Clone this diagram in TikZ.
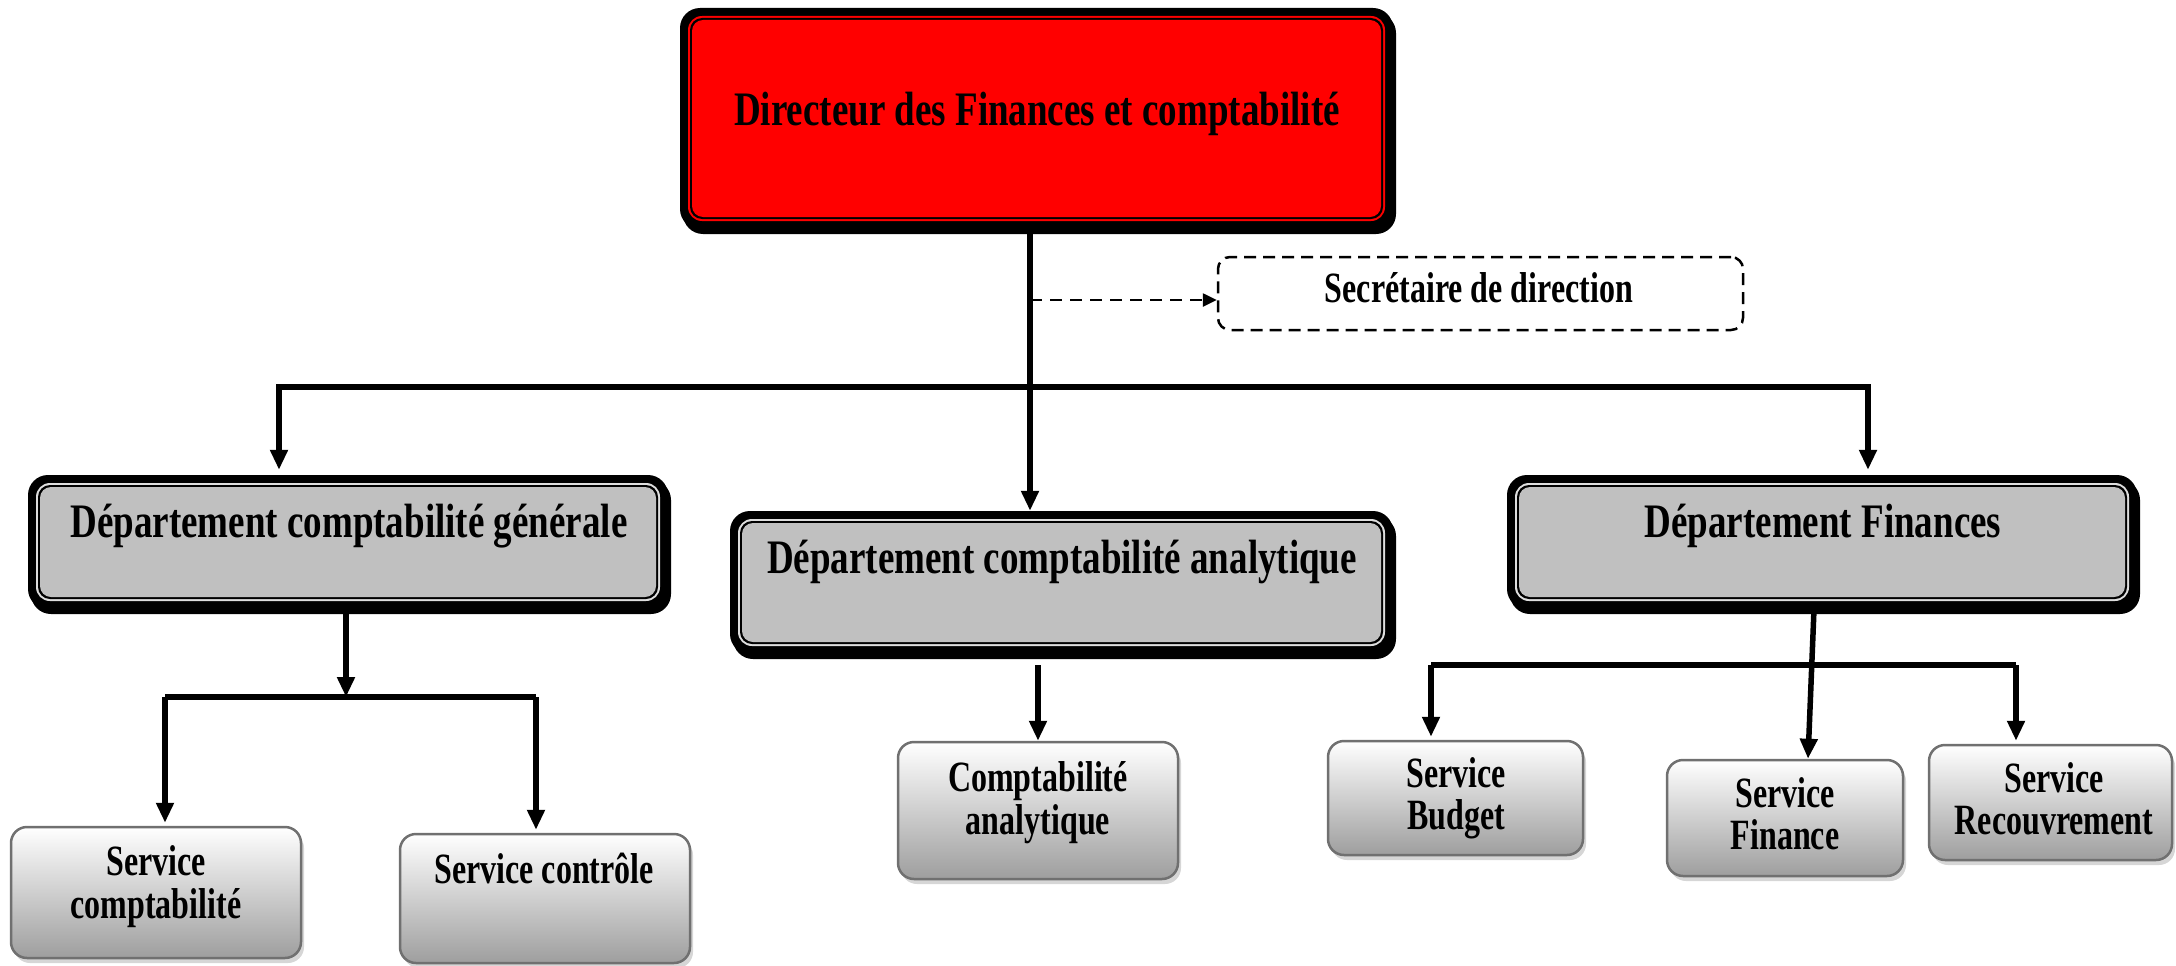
\documentclass[tikz,border=0pt]{standalone}
\usepackage{fontspec}
\setmainfont{Liberation Serif}
\usepackage{graphicx}
\usetikzlibrary{arrows.meta}

\definecolor{deptgray}{RGB}{192,192,192}
\definecolor{deptgap}{RGB}{222,222,222}
\definecolor{svcedge}{RGB}{112,112,112}
\definecolor{svcbottom}{RGB}{158,158,158}

% bold, vertically stretched label text (#1 size, #2 stretch, #3 lines)
\newcommand{\lbl}[3]{\scalebox{1}[#2]{\fontsize{#1}{31}\selectfont\bfseries
  \begin{tabular}{@{}c@{}}#3\end{tabular}}}

% heavy framed box: shadow, thick black rim, thin gap, thin black line, fill
% #1 name, #2 x1, #3 y1, #4 x2, #5 y2, #6 fill, #7 gap colour
\newcommand{\heavybox}[7]{%
  \fill[black, rounded corners=20pt] (#2+3,#3+5) rectangle (#4+3,#5+5);
  \fill[black, rounded corners=20pt] (#2,#3) rectangle (#4,#5);
  \fill[#7, rounded corners=14pt] (#2+8,#3+8) rectangle (#4-8,#5-8);
  \fill[black, rounded corners=12pt] (#2+10,#3+10) rectangle (#4-10,#5-10);
  \fill[#6, rounded corners=11pt] (#2+12,#3+12) rectangle (#4-12,#5-12);
  \node[inner sep=0, minimum width={(#4-#2)*1pt}, minimum height={(#5-#3)*1pt}]
    (#1) at ({(#2+#4)/2},{(#3+#5)/2}) {};
}

% service box with soft shadow and vertical gradient
\newcommand{\svcbox}[5]{%
  \fill[black, opacity=0.16, rounded corners=16pt] (#2+3,#3+5) rectangle (#4+3,#5+5);
  \node[svc, minimum width={(#4-#2)*1pt}, minimum height={(#5-#3)*1pt}]
    (#1) at ({(#2+#4)/2},{(#3+#5)/2}) {};
}

\tikzset{
  svc/.style={draw=svcedge, line width=2.5pt, rounded corners=16pt,
    top color=white, bottom color=svcbottom, inner sep=0},
  conn/.style={line width=5.5pt, -{Triangle[length=20pt,width=17pt]}},
  bothconn/.style={line width=5.5pt, {Triangle[length=20pt,width=17pt]}-{Triangle[length=20pt,width=17pt]}},
  dashconn/.style={line width=2.5pt, dash pattern=on 12pt off 8pt,
    -{Triangle[length=14pt,width=13pt]}},
  secbox/.style={draw, line width=2.5pt, dash pattern=on 12pt off 7pt,
    rounded corners=12pt, inner sep=0},
  txt/.style={inner sep=0}
}

\begin{document}
\begin{tikzpicture}[x=1pt,y=-1pt]
\useasboundingbox (0,0) rectangle (2176,966);

% director and departments
\heavybox{dir}{680}{8}{1393}{229}{red}{red}
\heavybox{gen}{28}{475}{668}{609}{deptgray}{deptgap}
\heavybox{ana}{730}{511}{1393}{654}{deptgray}{deptgap}
\heavybox{fin}{1507}{475}{2137}{609}{deptgray}{deptgap}

% secretary
\node[secbox, minimum width=525pt, minimum height=73pt] (sec) at (1480.5,293.5) {};

% services
\svcbox{sc}{11}{827}{301}{958}
\svcbox{sk}{400}{834}{690}{963}
\svcbox{ca}{898}{742}{1178}{879}
\svcbox{sb}{1328}{741}{1583}{855}
\svcbox{sf}{1667}{760}{1903}{876}
\svcbox{sr}{1929}{745}{2172}{860}

% labels
\node[txt] (tdir) at (1037,115) {\lbl{37}{1.3}{Directeur des Finances et comptabilité}};
\node[txt] (tsec) at (1479,294) {\lbl{32}{1.35}{Secrétaire de direction}};
\node[txt] (tgen) at (349,527) {\lbl{37}{1.3}{Département comptabilité générale}};
\node[txt] (tana) at (1062,563) {\lbl{37}{1.3}{Département comptabilité analytique}};
\node[txt] (tfin) at (1823,527) {\lbl{37}{1.3}{Département Finances}};
\node[txt] (tsc) at (156,888) {\lbl{32}{1.35}{Service\\comptabilité}};
\node[txt] (tsk) at (544,875) {\lbl{32}{1.35}{Service contrôle}};
\node[txt] (tca) at (1038,804) {\lbl{32}{1.35}{Comptabilité\\analytique}};
\node[txt] (tsb) at (1456,800) {\lbl{32}{1.35}{Service\\Budget}};
\node[txt] (tsf) at (1785,820) {\lbl{32}{1.35}{Service\\Finance}};
\node[txt] (tsr) at (2054,805) {\lbl{32}{1.35}{Service\\Recouvrement}};

% junction points
\coordinate (trunk) at (1030,300);
\coordinate (barL) at (279,387);
\coordinate (barR) at (1868,387);
\coordinate (genJ) at (346,697);
\coordinate (genL) at (165,697);
\coordinate (genR) at (536,697);
\coordinate (anaTop) at (1038,665);
\coordinate (finTop) at (1814,609);
\coordinate (finL) at (1431,665);
\coordinate (finR) at (2016,665);

% director to analytical department, with branch to secretary
\draw[conn] (dir.south -| trunk) -- (ana.north -| trunk);
\draw[dashconn] (trunk) -- (trunk -| sec.west);

% top bar to general and finance departments
\draw[bothconn] ([yshift=5pt]gen.north -| barL) -- (barL) -- (barR) -- ([yshift=5pt]fin.north -| barR);

% general department to its services
\draw[conn] (gen.south -| genJ) -- (genJ);
\draw[line width=5.5pt] (genL) -- (genR);
\draw[conn] (genL) -- ([yshift=3pt]sc.north -| genL);
\draw[conn] (genR) -- ([yshift=3pt]sk.north -| genR);

% analytical department to its service
\draw[conn] (anaTop) -- (ca.north -| anaTop);

% finance department to its services
\draw[conn] (finTop) -- ([xshift=-6pt]sf.north -| finTop);
\draw[line width=5.5pt] (finL) -- (finR);
\draw[conn] (finL) -- ([yshift=3pt]sb.north -| finL);
\draw[conn] (finR) -- ([yshift=3pt]sr.north -| finR);
\end{tikzpicture}
\end{document}
